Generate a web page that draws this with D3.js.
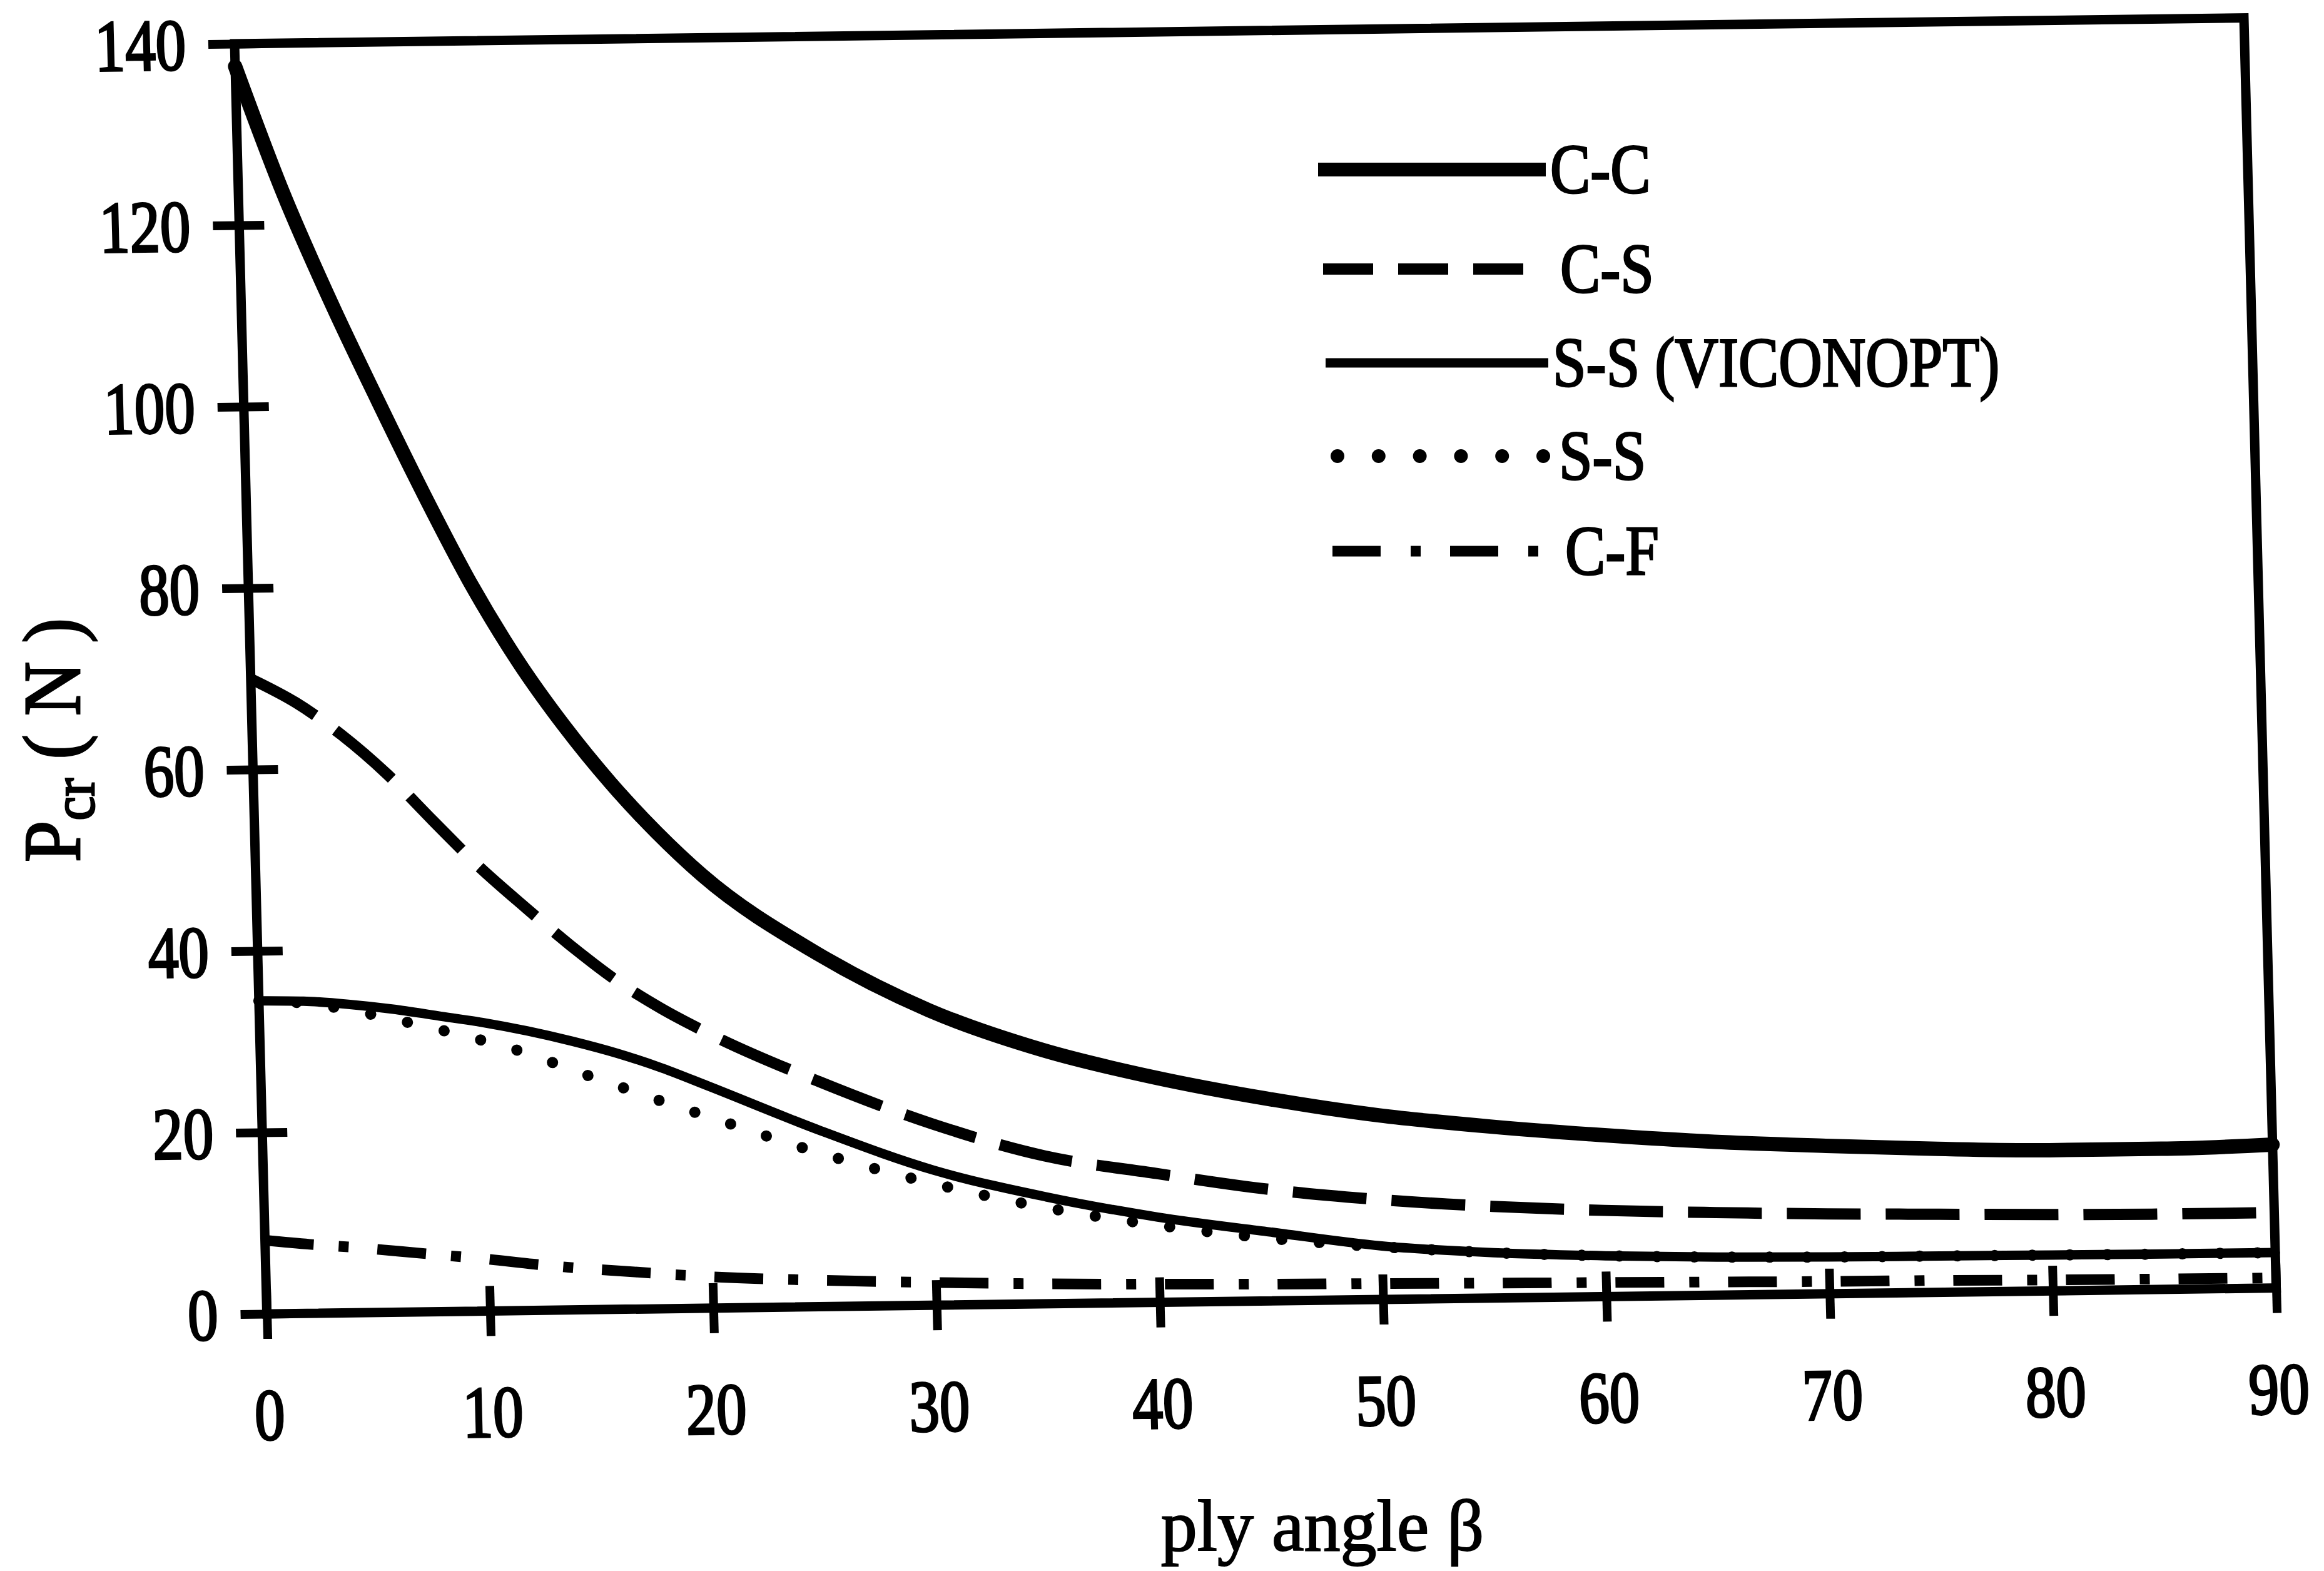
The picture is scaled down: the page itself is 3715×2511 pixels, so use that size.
<!DOCTYPE html>
<html>
<head>
<meta charset="utf-8">
<script src="https://cdn.jsdelivr.net/npm/d3@7"></script>
<style>
html, body { margin: 0; padding: 0; background: #ffffff; }
svg { display: block; }
</style>
</head>
<body>
<svg id="chart" width="3715" height="2511"></svg>
<script>
// ---------------- data ----------------
const angles = [0, 2, 4, 6, 8, 10, 12, 14, 16, 18, 20, 25, 30, 35, 40, 45, 50, 55, 60, 65, 70, 75, 80, 85, 90];
const ccValues = [137.5, 123.5, 111.5, 100.5, 89.9, 80, 71.5, 64.3, 58, 52.5, 47.7, 39.0, 32.5, 28, 24.8, 22.3, 20.3, 18.9, 17.8, 16.9, 16.3, 15.8, 15.5, 15.5, 15.8];
const csValues = [70, 67.3, 63.7, 59.3, 54.1, 49, 44.5, 40.2, 36.3, 33.1, 30.4, 24.8, 20, 16.3, 14.2, 12.3, 11, 10.1, 9.5, 9.1, 8.8, 8.6, 8.4, 8.3, 8.3];
const ssViconoptValues = [34.5, 34.4, 34, 33.4, 32.6, 31.8, 30.8, 29.6, 28.2, 26.5, 24.5, 19.4, 14.9, 11.8, 9.4, 7.6, 5.9, 5.0, 4.5, 4.2, 4.05, 4.0, 3.95, 3.9, 3.9];
const ssValues = [34.5, 34.2, 33.4, 32.3, 31.1, 29.8, 28.3, 26.4, 24.6, 22.8, 21.1, 16.9, 13.4, 10.6, 8.5, 6.9, 5.8, 5.0, 4.5, 4.2, 4.05, 4.0, 3.95, 3.9, 3.9];
const cfValues = [8.1, 7.6, 7.2, 6.7, 6.2, 5.7, 5.1, 4.6, 4.2, 3.8, 3.45, 2.9, 2.5, 2.2, 2.0, 1.85, 1.75, 1.65, 1.55, 1.45, 1.35, 1.3, 1.2, 1.15, 1.1];
const seriesNames = ["C-C", "C-S", "S-S (VICONOPT)", "S-S", "C-F"];
const xTicks = [0, 10, 20, 30, 40, 50, 60, 70, 80, 90];
const yTicks = [0, 20, 40, 60, 80, 100, 120, 140];
const xTitle = "ply angle β";
const yTitleMain = "P";
const yTitleSub = "cr";
const yTitleRest = " ( N )";

// ---------------- layout ----------------
const W = 3212, H = 2030;                   // plot frame (local units)
const frameTransform = "matrix(1,-0.0129,0.0254,1,375,70)"; // scanned figure is slightly skewed
const serif = "'Liberation Serif','Times New Roman',serif";

const svg = d3.select("#chart");
svg.append("rect").attr("width", 3715).attr("height", 2511).attr("fill", "#fff");

const g = svg.append("g").attr("transform", frameTransform);

const x = d3.scaleLinear().domain([0, 90]).range([0, W]);
const y = d3.scaleLinear().domain([0, 140]).range([H, 0]);

// frame
g.append("rect").attr("x", 0).attr("y", 0).attr("width", W).attr("height", H)
  .attr("fill", "none").attr("stroke", "#000").attr("stroke-width", 15);

// x axis
const gx = g.append("g").attr("transform", `translate(0,${H})`)
  .call(d3.axisBottom(x).tickValues(xTicks).tickSize(40).tickPadding(0));
gx.select(".domain").remove();
gx.selectAll(".tick line").attr("y1", -40).attr("y2", 40).attr("stroke", "#000").attr("stroke-width", 14);
gx.selectAll(".tick text")
  .attr("y", 201).attr("dy", 0)
  .attr("transform", "scale(0.83,1)")
  .attr("font-family", serif).attr("font-size", 117)
  .attr("fill", "#000").attr("stroke", "#000").attr("stroke-width", 3.5);

// y axis
const gy = g.append("g")
  .call(d3.axisLeft(y).tickValues(yTicks).tickSize(40).tickPadding(0));
gy.select(".domain").remove();
gy.selectAll(".tick line").attr("x1", -42).attr("x2", 40).attr("stroke", "#000").attr("stroke-width", 14);
gy.selectAll(".tick text")
  .attr("x", -78 / 0.83).attr("dy", "0.34em")
  .attr("text-anchor", "end")
  .attr("transform", "scale(0.83,1)")
  .attr("font-family", serif).attr("font-size", 117)
  .attr("fill", "#000").attr("stroke", "#000").attr("stroke-width", 3.5);

// series
const series = [
  { name: seriesNames[3], values: ssValues, width: 18, dash: "0,60", cap: "round" },
  { name: seriesNames[0], values: ccValues, width: 23, dash: null, cap: "round" },
  { name: seriesNames[1], values: csValues, width: 18, dash: "118,40", cap: "butt" },
  { name: seriesNames[2], values: ssViconoptValues, width: 15, dash: null, cap: "round" },
  { name: seriesNames[4], values: cfValues, width: 17, dash: "78,40,16,46", cap: "butt" }
];

const line = d3.line()
  .x(d => x(d[0]))
  .y(d => y(d[1]))
  .curve(d3.curveMonotoneX);

series.forEach(s => {
  const pts = angles.map((a, i) => [a, s.values[i]]);
  const p = g.append("path").datum(pts)
    .attr("d", line)
    .attr("fill", "none")
    .attr("stroke", "#000")
    .attr("stroke-width", s.width)
    .attr("stroke-linecap", s.cap)
    .attr("stroke-linejoin", "round");
  if (s.dash) p.attr("stroke-dasharray", s.dash);
});

// legend (page coordinates)
const legendRows = [
  { x1: 2107, x2: 2471, y: 271, width: 22, dash: null, cap: "butt", tx: 2478 },
  { x1: 2115, x2: 2437, y: 430, width: 18, dash: "80,40", cap: "butt", tx: 2494 },
  { x1: 2119, x2: 2475, y: 580, width: 15, dash: null, cap: "butt", tx: 2482 },
  { x1: 2138, x2: 2468, y: 729, width: 22, dash: "0,65.8", cap: "round", tx: 2492 },
  { x1: 2130, x2: 2460, y: 881, width: 17, dash: "77,48,16,47", cap: "butt", tx: 2502 }
];
const leg = svg.append("g");
legendRows.forEach((r, i) => {
  const l = leg.append("line")
    .attr("x1", r.x1).attr("x2", r.x2).attr("y1", r.y).attr("y2", r.y)
    .attr("stroke", "#000").attr("stroke-width", r.width).attr("stroke-linecap", r.cap);
  if (r.dash) l.attr("stroke-dasharray", r.dash);
  leg.append("text")
    .attr("transform", `translate(${r.tx},${r.y + 37}) scale(0.86,1)`)
    .attr("font-family", serif).attr("font-size", 112)
    .attr("fill", "#000").attr("stroke", "#000").attr("stroke-width", 3)
    .text(seriesNames[i]);
});

// axis titles
svg.append("text")
  .attr("x", 2114).attr("y", 2478)
  .attr("text-anchor", "middle")
  .attr("font-family", serif).attr("font-size", 116)
  .attr("fill", "#000").attr("stroke", "#000").attr("stroke-width", 2)
  .text(xTitle);

const yt = svg.append("text")
  .attr("transform", "translate(127,1183) rotate(-90) scale(0.92,1)")
  .attr("text-anchor", "middle")
  .attr("font-family", serif).attr("font-size", 130)
  .attr("fill", "#000").attr("stroke", "#000").attr("stroke-width", 3);
yt.append("tspan").text(yTitleMain);
yt.append("tspan").attr("font-size", 95).attr("dy", 23).text(yTitleSub);
yt.append("tspan").attr("dy", -23).text(yTitleRest);
</script>
</body>
</html>
